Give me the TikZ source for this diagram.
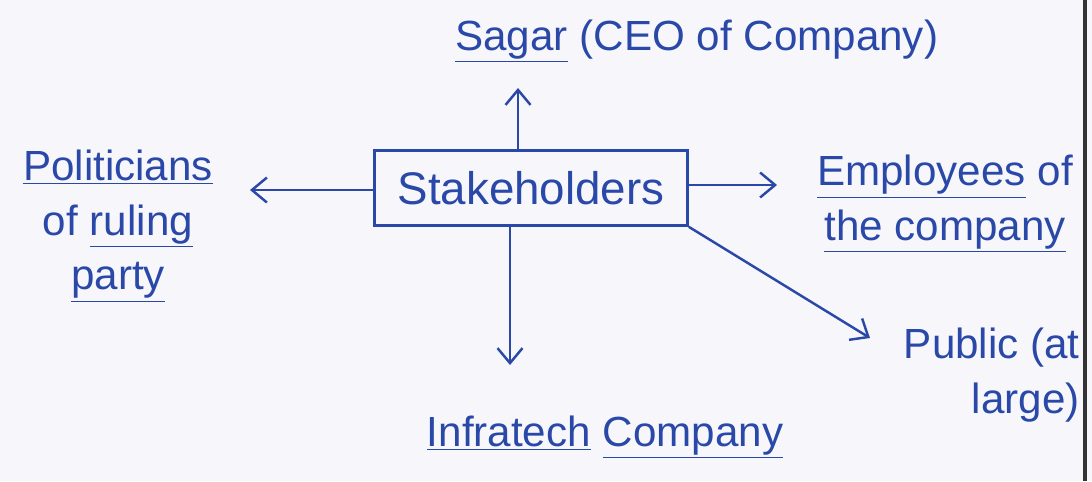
\documentclass[tikz,border=0pt]{standalone}
\usepackage{fontspec}
\setmainfont{Liberation Sans}
\usepackage{tikz}
\usepackage{xcolor}
\usetikzlibrary{arrows.meta,positioning}
\definecolor{ink}{RGB}{42,72,168}
\definecolor{paper}{RGB}{247,247,251}

\begin{document}
\begin{tikzpicture}[
      x=0.02cm,y=-0.02cm,
      hand/.style={text=ink,inner sep=0pt,align=center,font=\fontsize{24}{31}\selectfont},
      holderbox/.style={rectangle,draw=ink,line width=1.5pt,text=ink,minimum width=6.26cm,minimum height=1.5cm,font=\fontsize{26}{31}\selectfont},
      arrow/.style={-{Straight Barb[length=3mm,width=5mm]},draw=ink,line width=1.4pt}
    ]
    % paper and scan edge
    \fill[paper] (0,0) rectangle (1092,481);
    \useasboundingbox (0,0) rectangle (1092,481);
    \fill[black!80] (1083,0) rectangle (1087,481);

    \node[holderbox] (stake) at (531,188) {Stakeholders};
    \node[hand,anchor=base west] (sagar) at (455,50) {\underline{Sagar} (CEO of Company)};
    \node[hand,anchor=north] (pol) at (118,150) {\underline{Politicians}\\of \underline{ruling}\\\underline{party}};
    \node[hand,anchor=north] (emp) at (945,155) {\underline{Employees} of\\\underline{the company}};
    \node[hand,anchor=north east,align=right] (pub) at (1080,328) {Public (at\\large)};
    \node[hand,anchor=base] (infra) at (605,446) {\underline{Infratech} \underline{Company}};

    % arrow tips
    \coordinate (tipup) at (518,88);
    \coordinate (tipleft) at (250,190);
    \coordinate (tipright) at (777,185);
    \coordinate (tipdown) at (510,365);
    \coordinate (tippub) at (870,338);

    \draw[arrow] (stake.north -| tipup) -- (tipup);
    \draw[arrow] (stake.west |- tipleft) -- (tipleft);
    \draw[arrow] (stake.east |- tipright) -- (tipright);
    \draw[arrow] (stake.south -| tipdown) -- (tipdown);
    \draw[arrow] (stake.south east) -- (tippub);
  \end{tikzpicture}
\end{document}
